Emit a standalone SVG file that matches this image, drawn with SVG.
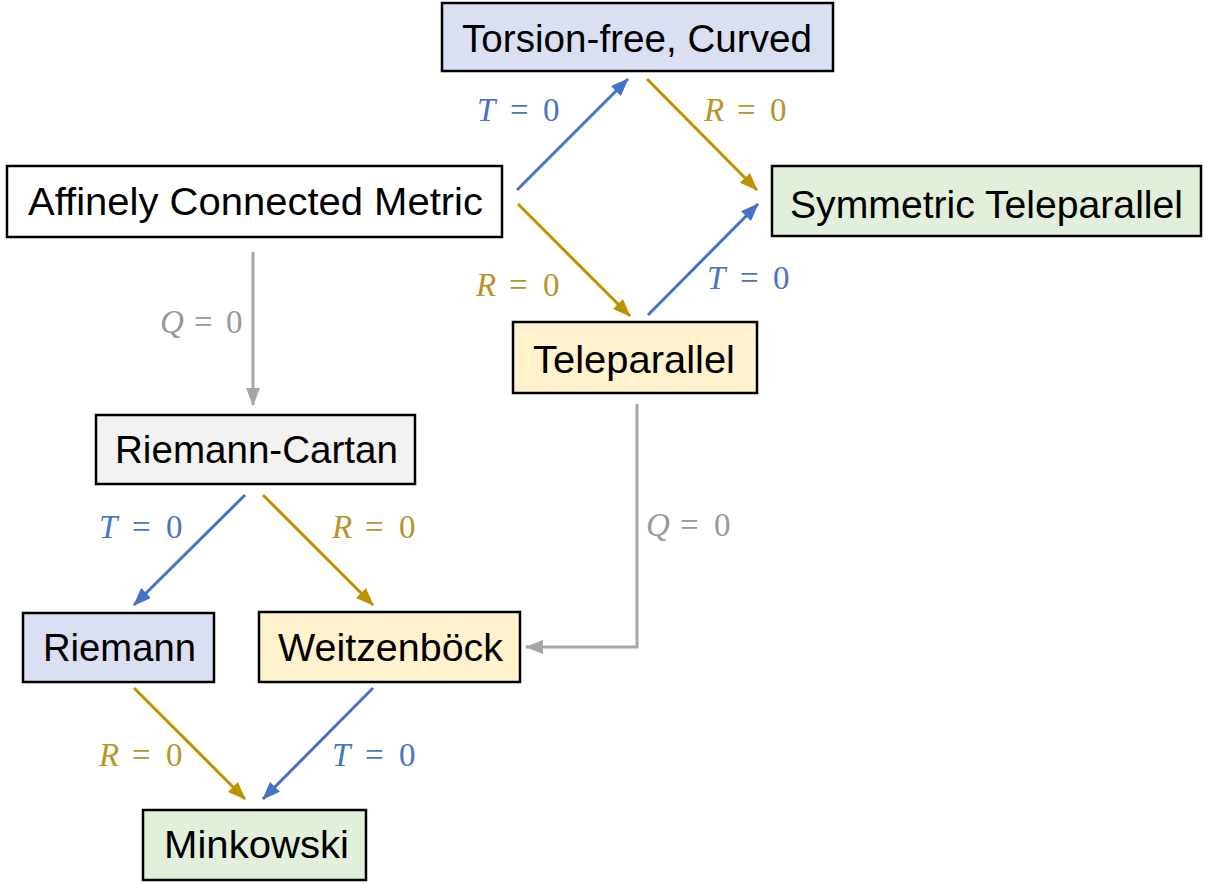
<svg xmlns="http://www.w3.org/2000/svg" width="1222" height="884" viewBox="0 0 1222 884">
<defs>
<style>
.box{stroke:#000;stroke-width:2.5}
.t{font-family:"Liberation Sans",Arial,sans-serif;font-size:39px;fill:#000}
.lbl{font-family:"Liberation Serif","DejaVu Serif",serif;font-size:33px}
.i{font-style:italic}
.b{fill:#4a74c6}.g{fill:#b8952a}.q{fill:#999}
.cb{stroke:#4472c4;stroke-width:3;fill:none}
.cg{stroke:#bf9000;stroke-width:3;fill:none}
.cq{stroke:#a6a6a6;stroke-width:3;fill:none}
</style>
<marker id="ab" viewBox="0 0 18 14" markerWidth="18" markerHeight="14" refX="17" refY="7" orient="auto" markerUnits="userSpaceOnUse"><path d="M0,0 L18,7 L0,14 z" fill="#4472c4"/></marker>
<marker id="ag" viewBox="0 0 18 14" markerWidth="18" markerHeight="14" refX="17" refY="7" orient="auto" markerUnits="userSpaceOnUse"><path d="M0,0 L18,7 L0,14 z" fill="#bf9000"/></marker>
<marker id="aq" viewBox="0 0 18 14" markerWidth="18" markerHeight="14" refX="17" refY="7" orient="auto" markerUnits="userSpaceOnUse"><path d="M0,0 L18,7 L0,14 z" fill="#a6a6a6"/></marker>
</defs>
<rect width="1222" height="884" fill="#fff"/>

<g id="connectors">
<line class="cb" x1="517" y1="190" x2="628" y2="79" marker-end="url(#ab)"/>
<line class="cg" x1="647" y1="79" x2="757" y2="190" marker-end="url(#ag)"/>
<line class="cg" x1="518" y1="204" x2="630" y2="316" marker-end="url(#ag)"/>
<line class="cb" x1="648" y1="315" x2="758" y2="204" marker-end="url(#ab)"/>
<line class="cq" x1="253" y1="252" x2="253" y2="405" marker-end="url(#aq)"/>
<polyline class="cq" points="637,404 637,647 526,647" marker-end="url(#aq)"/>
<line class="cb" x1="245" y1="495" x2="134" y2="605" marker-end="url(#ab)"/>
<line class="cg" x1="263" y1="495" x2="373" y2="605" marker-end="url(#ag)"/>
<line class="cg" x1="134" y1="688" x2="245" y2="799" marker-end="url(#ag)"/>
<line class="cb" x1="373" y1="688" x2="263" y2="799" marker-end="url(#ab)"/>

<text class="lbl b" y="121"><tspan class="i" x="477">T</tspan><tspan x="510">=</tspan><tspan x="543">0</tspan></text>
<text class="lbl g" y="121"><tspan class="i" x="704">R</tspan><tspan x="737">=</tspan><tspan x="770">0</tspan></text>
<text class="lbl g" y="296"><tspan class="i" x="476">R</tspan><tspan x="509">=</tspan><tspan x="543">0</tspan></text>
<text class="lbl b" y="289"><tspan class="i" x="707">T</tspan><tspan x="740">=</tspan><tspan x="773">0</tspan></text>
<text class="lbl q" y="333"><tspan class="i" x="160">Q</tspan><tspan x="194">=</tspan><tspan x="226">0</tspan></text>
<text class="lbl q" y="536"><tspan class="i" x="646">Q</tspan><tspan x="680">=</tspan><tspan x="714">0</tspan></text>
<text class="lbl b" y="538"><tspan class="i" x="99">T</tspan><tspan x="132">=</tspan><tspan x="166">0</tspan></text>
<text class="lbl g" y="538"><tspan class="i" x="332">R</tspan><tspan x="365">=</tspan><tspan x="399">0</tspan></text>
<text class="lbl g" y="766"><tspan class="i" x="99">R</tspan><tspan x="132">=</tspan><tspan x="166">0</tspan></text>
<text class="lbl b" y="766"><tspan class="i" x="332">T</tspan><tspan x="365">=</tspan><tspan x="399">0</tspan></text>
</g>

<g id="torsion-free">
<rect class="box" x="442" y="3" width="391" height="68" fill="#dae0f2"/>
<text class="t" x="462" y="52" textLength="350" lengthAdjust="spacingAndGlyphs">Torsion-free, Curved</text>
</g>
<g id="affinely">
<rect class="box" x="7" y="166" width="495" height="71" fill="#fff"/>
<text class="t" x="28" y="215" textLength="455" lengthAdjust="spacingAndGlyphs">Affinely Connected Metric</text>
</g>
<g id="symmetric-teleparallel">
<rect class="box" x="772" y="166" width="429" height="70" fill="#e2efda"/>
<text class="t" x="790" y="218" textLength="393" lengthAdjust="spacingAndGlyphs">Symmetric Teleparallel</text>
</g>
<g id="teleparallel">
<rect class="box" x="513" y="322" width="244" height="71" fill="#fff2cc"/>
<text class="t" x="533" y="373" textLength="202" lengthAdjust="spacingAndGlyphs">Teleparallel</text>
</g>
<g id="riemann-cartan">
<rect class="box" x="96" y="415" width="319" height="69" fill="#f2f2f2"/>
<text class="t" x="115" y="463" textLength="283" lengthAdjust="spacingAndGlyphs">Riemann-Cartan</text>
</g>
<g id="riemann">
<rect class="box" x="23" y="613" width="191" height="69" fill="#dae0f2"/>
<text class="t" x="43" y="661" textLength="153" lengthAdjust="spacingAndGlyphs">Riemann</text>
</g>
<g id="weitzenbock">
<rect class="box" x="259" y="612" width="261" height="70" fill="#fff2cc"/>
<text class="t" x="278" y="661" textLength="225" lengthAdjust="spacingAndGlyphs">Weitzenböck</text>
</g>
<g id="minkowski">
<rect class="box" x="143" y="810" width="223" height="70" fill="#e2efda"/>
<text class="t" x="164" y="858" textLength="185" lengthAdjust="spacingAndGlyphs">Minkowski</text>
</g>
</svg>
